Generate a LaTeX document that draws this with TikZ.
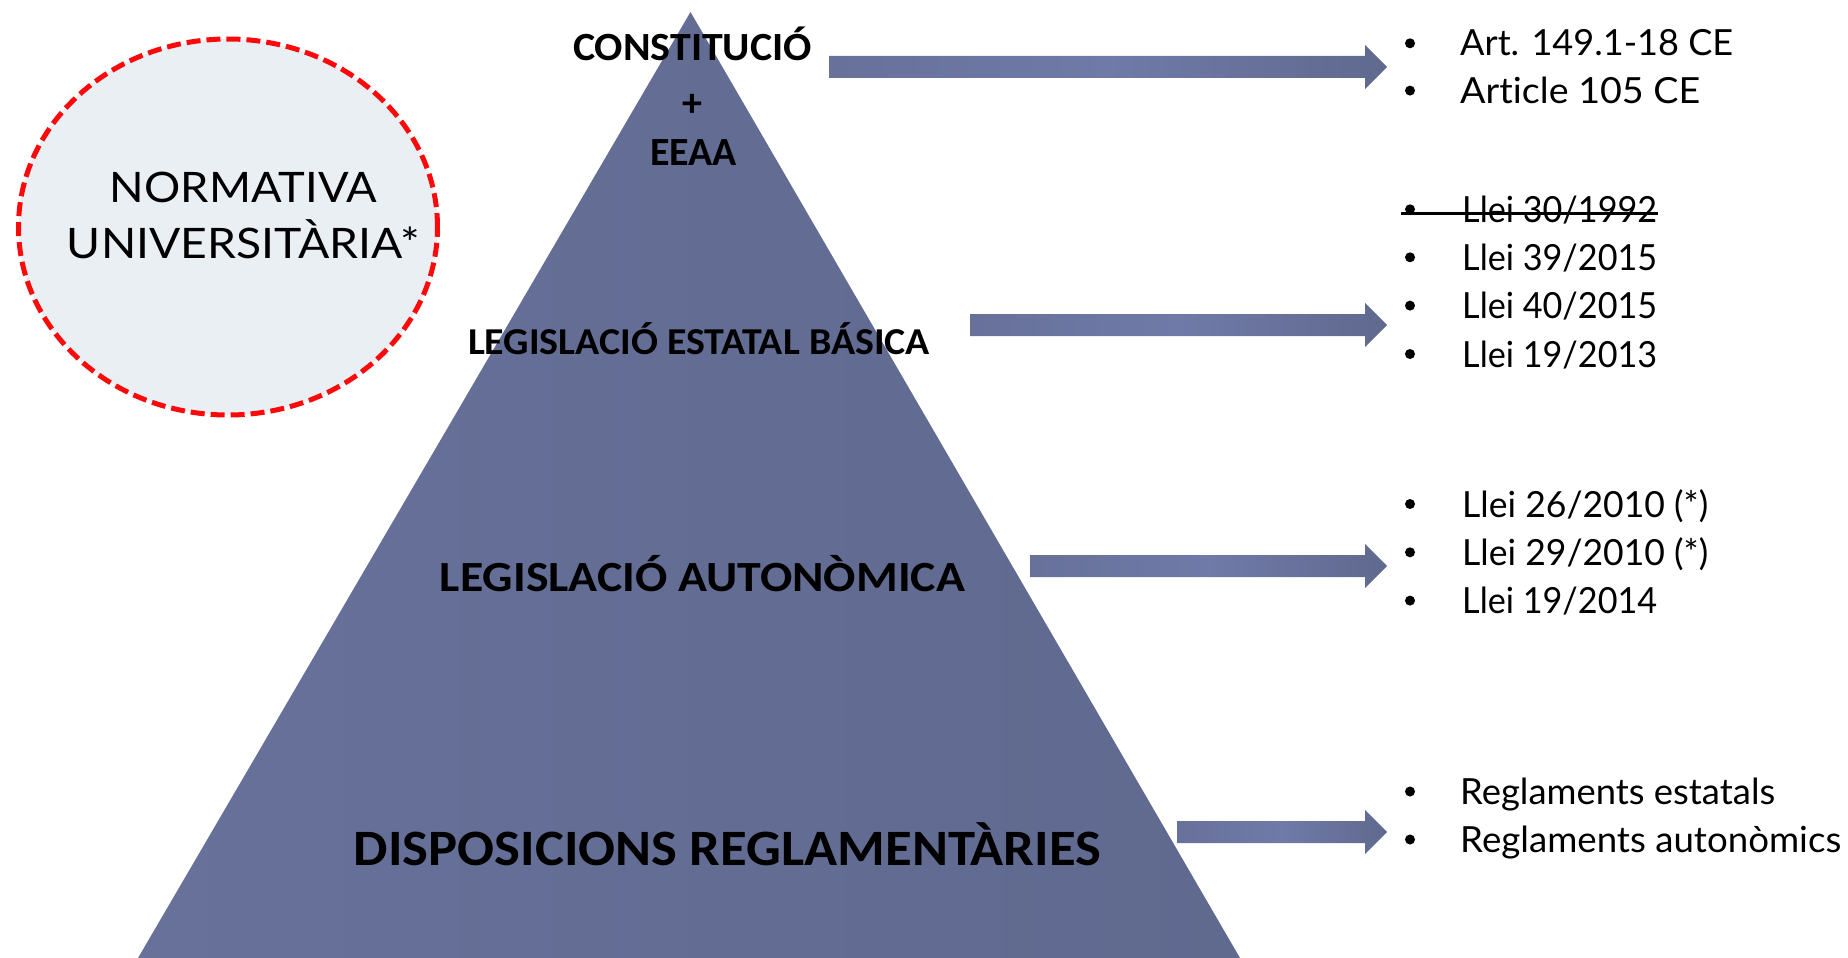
\documentclass[tikz,border=0pt]{standalone}
\usepackage{fontspec}
\setmainfont{Carlito}
\newfontfamily\gill[Ligatures={NoCommon,NoRare}]{Lato}
\usepackage{graphicx}
\usetikzlibrary{shapes.geometric,calc}
\definecolor{pyrL}{RGB}{103,113,154}
\definecolor{pyrM}{RGB}{111,122,168}
\definecolor{pyrR}{RGB}{96,105,142}
\definecolor{ellfill}{RGB}{234,239,244}
\definecolor{dashred}{RGB}{250,10,10}
\newcommand\fitto[2]{\resizebox{#1pt}{\height}{#2}}
\newcommand\blockarr[2]{\shade[arrowshade] ($(#1)+(0,-11)$) -- ($(#2)+(-22,-11)$) -- ($(#2)+(-22,-22)$) -- (#2) -- ($(#2)+(-22,22)$) -- ($(#2)+(-22,11)$) -- ($(#1)+(0,11)$) -- cycle;}
\begin{document}
\begin{tikzpicture}[x=1pt,y=-1pt,
  lvl/.style={text=black, inner sep=0pt, anchor=base},
  item/.style={font=\gill\fontsize{36}{40}\selectfont, inner sep=0pt, anchor=base west},
  bul/.style={circle, fill=black, inner sep=0pt, minimum size=10pt},
  arrowshade/.style={left color=pyrL, right color=pyrR, middle color=pyrM},
  strike/.style={line width=2.5pt}]
\useasboundingbox (0,0) rectangle (1848,958);
\clip (0,0) rectangle (1848,958);

% pyramid
\shade[left color=pyrL, middle color=pyrM, right color=pyrR] (690.5,12) -- (1240,958) -- (138,958) -- cycle;

% university norms ellipse
\node[ellipse, draw=dashred, line width=5pt, dash pattern=on 14pt off 6pt, fill=ellfill,
  minimum width=419pt, minimum height=376pt, inner sep=0pt] (norm) at (228,227) {};
\node[lvl, font=\gill\fontsize{42}{46}\selectfont] (norm1) at (243.5,202) {\fitto{267}{NORMATIVA}};
\node[lvl, font=\gill\fontsize{42}{46}\selectfont] (norm2) at (243.5,258) {\fitto{353}{UNIVERSITÀRIA*}};

% pyramid labels
\node[lvl, font=\bfseries\fontsize{40}{44}\selectfont] (const) at (692.5,60) {\fitto{239}{CONSTITUCIÓ}};
\node[lvl, font=\bfseries\fontsize{40}{44}\selectfont] (plus) at (692,117) {+};
\node[lvl, font=\bfseries\fontsize{40}{44}\selectfont] (eeaa) at (693.5,165) {\fitto{87}{EEAA}};
\node[lvl, font=\bfseries\fontsize{38}{42}\selectfont] (estat) at (699,354) {\fitto{462}{LEGISLACIÓ ESTATAL BÁSICA}};
\node[lvl, font=\bfseries\fontsize{43}{47}\selectfont] (auton) at (702.5,591) {\fitto{525}{LEGISLACIÓ AUTONÒMICA}};
\node[lvl, font=\bfseries\fontsize{51}{55}\selectfont] (dispo) at (727.5,865) {\fitto{747}{DISPOSICIONS REGLAMENTÀRIES}};

% right lists
\node[bul] (b1) at (1410,43.3) {};
\node[item] (l1) at (1460,56) {\fitto{273}{Art. 149.1-18 CE}};
\node[bul] (b2) at (1410,90.6) {};
\node[item] (l2) at (1460,103) {\fitto{240}{Article 105 CE}};

\node[bul] (b3) at (1410,209.3) {};
\node[item] (l3) at (1462,222) {\fitto{195}{Llei 30/1992}};
\node[bul] (b4) at (1410,257.3) {};
\node[item] (l4) at (1462,270) {\fitto{195}{Llei 39/2015}};
\node[bul] (b5) at (1410,305.6) {};
\node[item] (l5) at (1462,318) {\fitto{195}{Llei 40/2015}};
\node[bul] (b6) at (1410,354) {};
\node[item] (l6) at (1462,367) {\fitto{195}{Llei 19/2013}};
\draw[strike] ($(b3.west)+(-4,4)$) -- ($(l3.east |- b3.center)+(1,4)$);

\node[bul] (b7) at (1410,504) {};
\node[item] (l7) at (1462,517) {\fitto{246}{Llei 26/2010 (*)}};
\node[bul] (b8) at (1410,552.3) {};
\node[item] (l8) at (1462,565) {\fitto{246}{Llei 29/2010 (*)}};
\node[bul] (b9) at (1410,600.6) {};
\node[item] (l9) at (1462,613) {\fitto{195}{Llei 19/2014}};

\node[bul] (b10) at (1410,791.5) {};
\node[item] (l10) at (1460,804.5) {\fitto{315}{Reglaments estatals}};
\node[bul] (b11) at (1410,839.5) {};
\node[item] (l11) at (1460,852.5) {\fitto{381}{Reglaments autonòmics}};

% block arrows
\coordinate (a1s) at (829,67);  \coordinate (a1e) at (1387,67);
\coordinate (a2s) at (970,325); \coordinate (a2e) at (1387,325);
\coordinate (a3s) at (1030,566); \coordinate (a3e) at (1387,566);
\coordinate (a4s) at (1177,832); \coordinate (a4e) at (1387,832);
\blockarr{a1s}{a1e}
\blockarr{a2s}{a2e}
\blockarr{a3s}{a3e}
\blockarr{a4s}{a4e}
\end{tikzpicture}
\end{document}
